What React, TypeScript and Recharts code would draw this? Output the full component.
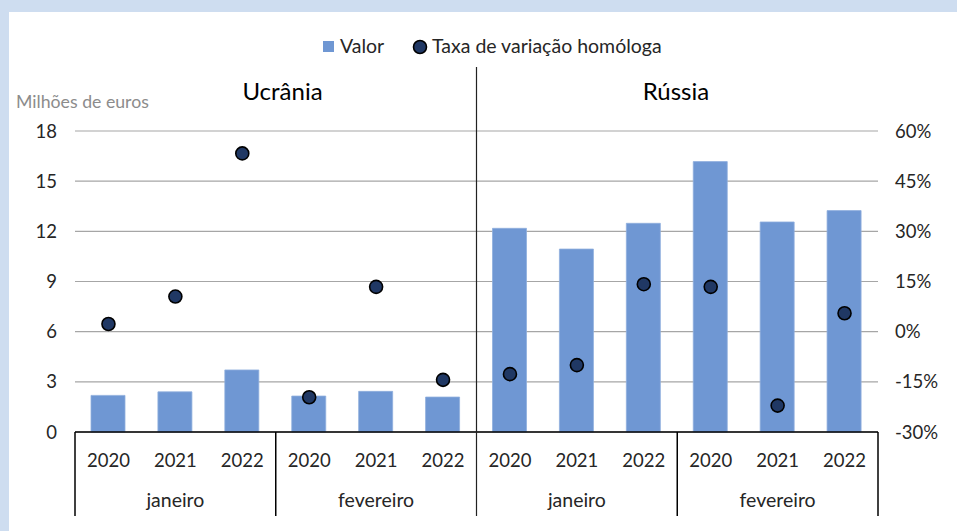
import React from "react";
import { ComposedChart, Bar, Line, XAxis, YAxis, CartesianGrid } from "recharts";

const countries = ["Ucrânia", "Rússia"];
const months = ["janeiro", "fevereiro"];
const years = ["2020", "2021", "2022"];
const valor = [2.19, 2.4, 3.71, 2.15, 2.43, 2.09, 12.18, 10.94, 12.48, 16.17, 12.56, 13.24];
const taxa = [2.3, 10.5, 53.3, -19.6, 13.4, -14.4, -12.7, -10.0, 14.2, 13.4, -22.1, 5.5];
const leftTicks = [0, 3, 6, 9, 12, 15, 18];
const rightTicks = [-30, -15, 0, 15, 30, 45, 60];
const legendLabels = ["Valor", "Taxa de variação homóloga"];
const leftAxisTitle = "Milhões de euros";

const data = countries.flatMap((c, ci) =>
  months.flatMap((m, mi) =>
    years.map((y, yi) => {
      const i = ci * 6 + mi * 3 + yi;
      return { key: `${c}-${m}-${y}`, year: y, month: m, valor: valor[i], taxa: taxa[i] };
    })
  )
);

const W = 948;
const H = 519;
const M = { top: 119, right: 0, bottom: 0, left: 0 };
const LEFT_W = 66;
const RIGHT_W = 79;
const XH = 99;
const PLOT_W = W - LEFT_W - RIGHT_W;
const BAND = PLOT_W / data.length;
const FONT = "Lato, 'Open Sans', sans-serif";
const BAR = "#6F97D3";
const DOT = "#203864";

const XTick = (props: any) => {
  const { x, y, payload, index } = props;
  const d = data[index] || { year: payload.value, month: "" };
  const parts: any[] = [];
  parts.push(
    <text key="y" x={x} y={y + 35} textAnchor="middle" fontSize={18.5} fill="#262626" fontFamily={FONT}>
      {d.year}
    </text>
  );
  if (index % 3 === 1) {
    parts.push(
      <text key="m" x={x} y={y + 75} textAnchor="middle" fontSize={19.5} fill="#262626" fontFamily={FONT}>
        {d.month}
      </text>
    );
  }
  if (index % 3 === 0) {
    const top = index === 6 ? y - 365 : y;
    parts.push(
      <line key="l" x1={x - BAND / 2} x2={x - BAND / 2} y1={top} y2={y + 84} stroke={index === 6 ? "#222" : "#000"} strokeWidth={index === 6 ? 1.2 : 1.5} />
    );
  }
  if (index === data.length - 1) {
    parts.push(<line key="r" x1={x + BAND / 2} x2={x + BAND / 2} y1={y} y2={y + 84} stroke="#000" strokeWidth={1.5} />);
  }
  return <g>{parts}</g>;
};

export default function App() {
  return (
    <div style={{ position: "absolute", left: 0, top: 0, width: 957, height: 531, background: "#CEDDF0", overflow: "hidden" }}>
      <div style={{ position: "absolute", left: 9, top: 12, width: W, height: H, background: "#fff" }}>
        <ComposedChart width={W} height={H} data={data} margin={M} barSize={34}>
          <CartesianGrid yAxisId="left" vertical={false} stroke="#A6A6A6" strokeWidth={1.2} />
          <XAxis
            dataKey="key"
            height={XH}
            interval={0}
            tickSize={0}
            tickMargin={0}
            tickLine={false}
            axisLine={{ stroke: "#000", strokeWidth: 1.5 }}
            tick={<XTick />}
          />
          <YAxis
            yAxisId="left"
            width={LEFT_W}
            domain={[0, 18]}
            ticks={leftTicks}
            axisLine={false}
            tickLine={false}
            tickMargin={12}
            tick={{ fontSize: 18.5, fill: "#262626", fontFamily: FONT }}
          />
          <YAxis
            yAxisId="right"
            orientation="right"
            width={RIGHT_W}
            domain={[-30, 60]}
            ticks={rightTicks}
            axisLine={false}
            tickLine={false}
            tickMargin={11}
            tickFormatter={(v: number) => `${v}%`}
            tick={{ fontSize: 18.5, fill: "#262626", fontFamily: FONT, textAnchor: "start" }}
          />
          <Bar yAxisId="left" dataKey="valor" fill={BAR} stroke="#8FAEDD" strokeWidth={0.8} isAnimationActive={false} />
          <Line
            yAxisId="right"
            dataKey="taxa"
            stroke="none"
            strokeWidth={0}
            dot={{ r: 6.5, fill: DOT, stroke: "#000", strokeWidth: 1.6 }}
            activeDot={false}
            isAnimationActive={false}
          />
        </ComposedChart>
        <svg width={W} height={120} style={{ position: "absolute", left: 0, top: 0, pointerEvents: "none" }}>
          <rect x={314} y={29} width={11} height={11} fill={BAR} />
          <text x={331} y={41} fontSize={19.5} fill="#262626" fontFamily={FONT}>{legendLabels[0]}</text>
          <circle cx={411} cy={35} r={6.5} fill={DOT} stroke="#000" strokeWidth={1.6} />
          <text x={423} y={41} fontSize={19.5} fill="#262626" fontFamily={FONT}>{legendLabels[1]}</text>
          <text x={273.5} y={88} fontSize={24} textAnchor="middle" fill="#000" fontFamily={FONT}>{countries[0]}</text>
          <text x={667} y={88} fontSize={24} textAnchor="middle" fill="#000" fontFamily={FONT}>{countries[1]}</text>
          <text x={7} y={96} fontSize={17.7} fill="#8C8C8C" fontFamily={FONT}>{leftAxisTitle}</text>
        </svg>
      </div>
    </div>
  );
}
